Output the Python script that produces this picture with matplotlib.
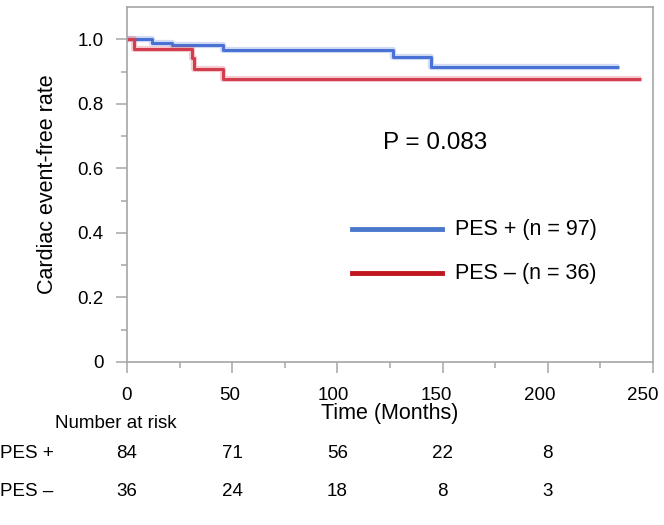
import numpy as np
import matplotlib
matplotlib.use("Agg")
import matplotlib.pyplot as plt
from matplotlib.ticker import MultipleLocator, FixedLocator, FuncFormatter
import matplotlib.transforms as mtransforms

plt.rcParams['font.family'] = ['Liberation Sans', 'DejaVu Sans']

# step curves (time in months, survival)
pes_pos_t = [0, 11.9, 21.2, 45.5, 126.3, 144.3, 233.8]
pes_pos_s = [1.0, 0.989, 0.981, 0.968, 0.945, 0.914, 0.914]
pes_neg_t = [0, 3.5, 31.0, 32.0, 45.5, 244.3]
pes_neg_s = [1.0, 0.971, 0.943, 0.909, 0.878, 0.878]

x_ticks = [0, 50, 100, 150, 200, 250]

risk_times = [0, 50, 100, 150, 200]
risk_pos = [84, 71, 56, 22, 8]
risk_neg = [36, 24, 18, 8, 3]

blue = '#4a72d4'
red = '#d23e4e'
spine_col = '#a6a6a6'

fig = plt.figure(figsize=(6.64, 5.25), dpi=100)
ax = fig.add_axes([127/664, 1 - 362/525, 526/664, 355/525])

# soft halo + main line
for t, s, c in [(pes_pos_t, pes_pos_s, blue), (pes_neg_t, pes_neg_s, red)]:
    ax.step(t, s, where='post', color=c, lw=4.5, alpha=0.25, solid_capstyle='butt')
    ax.step(t, s, where='post', color=c, lw=2.2, solid_capstyle='butt')

ax.set_xlim(0, 250)
ax.set_ylim(0, 1.1)
ax.set_xticks(x_ticks)
ax.xaxis.set_minor_locator(MultipleLocator(25))
ax.yaxis.set_major_locator(FixedLocator([0, 0.2, 0.4, 0.6, 0.8, 1.0]))
ax.yaxis.set_minor_locator(FixedLocator([0.1, 0.3, 0.5, 0.7, 0.9]))
ax.yaxis.set_major_formatter(FuncFormatter(lambda v, p: '0' if v == 0 else f'{v:.1f}'))

for sp in ax.spines.values():
    sp.set_color(spine_col)
    sp.set_linewidth(1.2)
ax.tick_params(which='major', length=8, width=1.1, color=spine_col, labelsize=13.5)
ax.tick_params(which='minor', length=4, width=1.1, color=spine_col)
ax.tick_params(axis='x', labelbottom=False)
ax.tick_params(axis='y', pad=9)

# x tick labels drawn by hand: in the reference they drift slightly left of their ticks
for v in x_ticks:
    ax.annotate(str(v), xy=(v, 0), xycoords=('data', 'axes fraction'),
                xytext=(-0.029 * v, -18), textcoords='offset points',
                ha='center', va='top', fontsize=13.5)

ax.set_xlabel('Time (Months)', fontsize=15.5, va='top')
ax.xaxis.set_label_coords(0.5, (362 - 403) / 355)
ax.set_ylabel('Cardiac event-free rate', fontsize=15.5, labelpad=14)

ax.text(0.586, 0.617, 'P = 0.083', transform=ax.transAxes, fontsize=17.5,
        ha='center', va='center')

# legend drawn by hand
leg = [('#4a78cc', 'PES + (n = 97)', 229), ('#c0161f', 'PES \u2013 (n = 36)', 273)]
for lc, lab, ypx in leg:
    yf = 1 - ypx / 525
    fig.add_artist(plt.Line2D([352/664, 442/664], [yf, yf], color=lc, lw=3.5))
    fig.text(455/664, yf, lab, fontsize=15.5, va='center', ha='left')

# number at risk table
fig.text(55/664, 1 - 423/525, 'Number at risk', fontsize=13.5, va='center', ha='left')
trans = mtransforms.blended_transform_factory(ax.transData, fig.transFigure)
for lab, vals, ypx in [('PES +', risk_pos, 454), ('PES \u2013', risk_neg, 491)]:
    yf = 1 - ypx / 525
    fig.text(0.0, yf, lab, fontsize=13.5, va='center', ha='left')
    for t, v in zip(risk_times, vals):
        ax.text(t, yf, str(v), transform=trans, fontsize=13.5, va='center', ha='center',
                clip_on=False)

fig.savefig('out.png', dpi=100)
